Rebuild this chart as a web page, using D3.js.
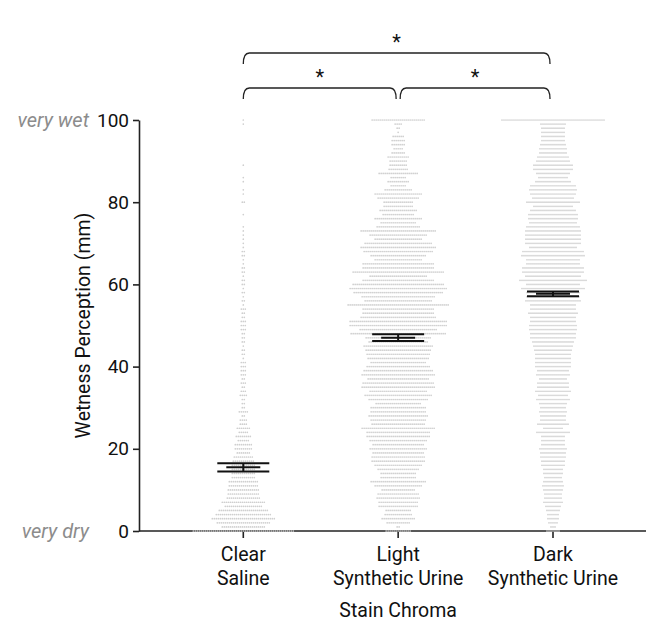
<!DOCTYPE html>
<html>
<head>
<meta charset="utf-8">
<script src="https://cdn.jsdelivr.net/npm/d3@7"></script>
<style>
  body { margin: 0; background: #fff; }
  text { font-family: Roboto, "Noto Sans", sans-serif; fill: #111; }
</style>
</head>
<body>
<script>
// categories (two-line labels)
var categories = ["Clear Saline", "Light Synthetic Urine", "Dark Synthetic Urine"];
var catLines = [["Clear", "Saline"], ["Light", "Synthetic Urine"], ["Dark", "Synthetic Urine"]];

// number of responses at each rating, listed from 100 down to 0
var clearCounts = [1,1,0,0,0,0,0,0,0,0, 0,1,0,0,1,1,0,1,1,0, 2,0,0,1,0,0,1,1,1,1,
  1,1,2,2,1,1,2,2,1,2, 2,1,2,1,2,1,3,2,2,3, 3,3,2,2,2,1,2,2,1,3, 3,3,3,2,3,2,3,4,2,2,
  2,5,2,4,4,7,5,8,6,9, 9,7,10,11,12,12,12,12,15,15, 16,16,17,22,19,25,28,32,27,22, 51];
var lightCounts = [27,4,2,1,6,7,7,5,7,11, 9,9,10,20,8,11,8,14,24,21, 15,15,19,16,24,18,22,38,29,24,
  34,38,35,28,24,36,36,46,29,36, 46,49,45,37,34,51,36,36,38,49, 49,39,48,33,30,35,33,32,31,28,
  32,35,37,31,36,37,29,34,30,23, 28,28,30,28,27,37,32,32,29,26, 29,26,27,27,24,21,18,18,28,24,
  17,21,22,20,20,13,14,17,12,2, 13];
var darkCounts = [52,13,12,12,12,12,13,14,14,16, 17,20,20,17,15,18,23,24,23,21, 27,20,23,25,25,24,27,28,28,28,
  28,24,31,32,27,27,31,31,28,34, 27,32,27,27,28,23,23,25,23,23, 24,24,23,23,21,20,19,18,18,18,
  18,16,17,14,16,16,18,15,17,14, 13,14,13,13,16,10,17,12,12,12, 14,13,13,12,12,10,10,9,10,11,
  10,9,9,10,8,7,6,6,5,3, 7];

// mean and error bar bounds
var means = [15.5, 47.0, 57.7];
var errLow = [14.5, 46.2, 57.1];
var errHigh = [16.5, 47.9, 58.3];

var yTicks = [0, 20, 40, 60, 80, 100];

// significance brackets: [from, to, level]
var brackets = [[0, 2, 0], [0, 1, 1], [1, 2, 1]];

var width = 646, height = 625;
var svg = d3.select("body").append("svg")
    .attr("width", width)
    .attr("height", height);

var x = d3.scalePoint().domain(categories).range([243.3, 553]);
var y = d3.scaleLinear().domain([0, 100]).range([531, 120]);

var pitch = 2;

// x axis line (drawn first so the dots cover it)
svg.append("line")
    .attr("x1", 139).attr("x2", width)
    .attr("y1", y(0)).attr("y2", y(0))
    .attr("stroke", "#222").attr("stroke-width", 1.6);

// x ticks
svg.selectAll(".xtick").data(categories).enter().append("line")
    .attr("x1", d => x(d)).attr("x2", d => x(d))
    .attr("y1", y(0)).attr("y2", y(0) + 7)
    .attr("stroke", "#222").attr("stroke-width", 1.6);

// dots
var allCounts = [clearCounts, lightCounts, darkCounts];
var dots = [];
allCounts.forEach(function(counts, ci) {
  counts.forEach(function(n, k) {
    var v = 100 - k;
    for (var i = 0; i < n; i++) {
      dots.push({cat: categories[ci], v: v, off: (i - (n - 1) / 2) * pitch});
    }
  });
});
svg.append("g").selectAll("circle").data(dots).enter().append("circle")
    .attr("cx", d => x(d.cat) + d.off)
    .attr("cy", d => y(d.v))
    .attr("r", 0.85)
    .attr("fill", "#cfcfcf");

// y axis
var yAxis = svg.append("g")
    .attr("transform", "translate(139,0)")
    .call(d3.axisLeft(y).tickValues(yTicks).tickSize(6).tickSizeOuter(0).tickPadding(4));
yAxis.select(".domain").attr("stroke", "#222").attr("stroke-width", 1.6);
yAxis.selectAll(".tick line").attr("stroke", "#222").attr("stroke-width", 1.6);
yAxis.selectAll(".tick text")
    .attr("font-size", 19)
    .attr("font-family", "Roboto, sans-serif")
    .attr("fill", "#111");

// end labels
svg.append("text").attr("x", 89).attr("y", y(100)).attr("dy", "0.35em")
    .attr("text-anchor", "end").attr("font-style", "italic").attr("font-size", 20)
    .style("fill", "#8c8c8c").text("very wet");
svg.append("text").attr("x", 89).attr("y", y(0)).attr("dy", "0.35em")
    .attr("text-anchor", "end").attr("font-style", "italic").attr("font-size", 20)
    .style("fill", "#8c8c8c").text("very dry");

// y axis title
svg.append("text")
    .attr("transform", "translate(90," + y(50) + ") rotate(-90)")
    .attr("text-anchor", "middle").attr("font-size", 19.5)
    .text("Wetness Perception (mm)");

// category labels
catLines.forEach(function(lines, i) {
  var t = svg.append("text").attr("text-anchor", "middle").attr("font-size", 19.5);
  lines.forEach(function(l, j) {
    t.append("tspan").attr("x", x(categories[i])).attr("y", 561 + j * 24).text(l);
  });
});

svg.append("text").attr("x", x(categories[1])).attr("y", 617)
    .attr("text-anchor", "middle").attr("font-size", 19.5).text("Stain Chroma");

// mean and error bars
var eb = svg.append("g").attr("stroke", "#111").attr("stroke-width", 2).attr("fill", "none");
categories.forEach(function(c, i) {
  var cx = x(c);
  eb.append("line").attr("x1", cx - 26).attr("x2", cx + 26).attr("y1", y(errHigh[i])).attr("y2", y(errHigh[i]));
  eb.append("line").attr("x1", cx - 26).attr("x2", cx + 26).attr("y1", y(errLow[i])).attr("y2", y(errLow[i]));
  eb.append("line").attr("x1", cx - 17).attr("x2", cx + 17).attr("y1", y(means[i])).attr("y2", y(means[i]));
  eb.append("line").attr("x1", cx).attr("x2", cx).attr("y1", y(errHigh[i])).attr("y2", y(errLow[i]));
});

// significance brackets
var levelY = [53, 88];
var bg = svg.append("g");
brackets.forEach(function(b) {
  var x1 = x(categories[b[0]]), x2 = x(categories[b[1]]);
  if (b[2] === 1) {
    if (b[0] === 1) x1 += 2;
    if (b[1] === 1) x2 -= 2;
  }
  x2 = Math.min(x2, 550);
  var yy = levelY[b[2]], r = 6, drop = 11;
  var p = d3.path();
  p.moveTo(x1, yy + drop);
  p.quadraticCurveTo(x1, yy, x1 + r, yy);
  p.lineTo(x2 - r, yy);
  p.quadraticCurveTo(x2, yy, x2, yy + drop);
  bg.append("path").attr("d", p.toString())
    .attr("fill", "none").attr("stroke", "#222").attr("stroke-width", 1.3);
  bg.append("text").attr("x", (x1 + x2) / 2).attr("y", yy - 4)
    .attr("text-anchor", "middle").attr("font-size", 20).text("*");
});
</script>
</body>
</html>
